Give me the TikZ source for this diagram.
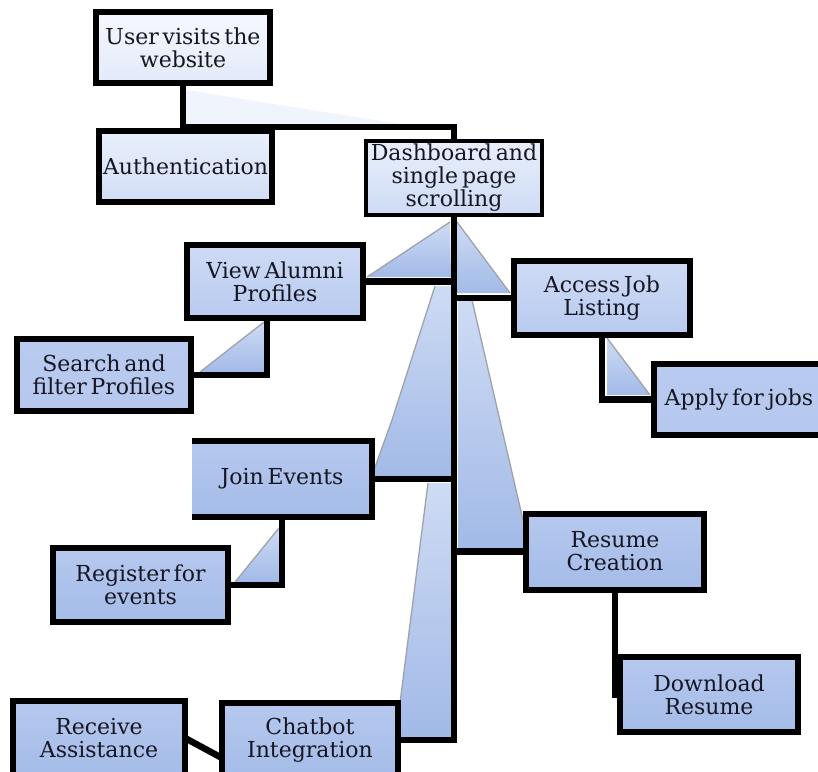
\documentclass[tikz,border=0pt]{standalone}
\usepackage{fontspec}
\setmainfont{DejaVu Serif}[WordSpace=0.55]
\definecolor{ink}{RGB}{22,22,34}
\definecolor{rimgray}{RGB}{160,162,170}
\definecolor{haze}{RGB}{240,244,252}
\definecolor{wedgeTop}{RGB}{206,219,244}
\definecolor{wedgeBot}{RGB}{162,186,231}
\definecolor{paleTop}{RGB}{246,248,254}
\definecolor{paleBot}{RGB}{226,233,249}
\definecolor{lightTop}{RGB}{233,239,251}
\definecolor{lightBot}{RGB}{210,222,246}
\definecolor{midTop}{RGB}{206,219,245}
\definecolor{midBot}{RGB}{184,202,239}
\definecolor{deepTop}{RGB}{182,200,238}
\definecolor{deepBot}{RGB}{164,188,232}
\tikzset{
  box/.style={draw=black, line width=6pt, minimum width=176pt, minimum height=74pt,
    inner sep=0pt, outer sep=0pt, align=center, text=ink,
    font=\fontsize{22}{23}\selectfont},
  tone/.style 2 args={top color=#1, bottom color=#2},
  link/.style={draw=black, line width=6.5pt},
  frame/.style={draw=black, line width=6pt},
  wedge/.style={top color=wedgeTop, bottom color=wedgeBot},
  rim/.style={draw=rimgray, line width=1.3pt}
}
\begin{document}
\begin{tikzpicture}[x=1pt,y=-1pt]
      \clip (0,0) rectangle (818,771);

      \fill[haze] (186,90) -- (186,124) -- (400,124) -- cycle;
      \shade[wedge] (450,222) -- (451,277) -- (367,277) -- cycle;
        \draw[rim] (450,222) -- (367,277);
      \shade[wedge] (457,222) -- (510,293) -- (457,293) -- cycle;
        \draw[rim] (457,222) -- (510,293);
      \shade[wedge] (435,286) -- (451,286) -- (451,476) -- (374,476) -- (374,470) -- (392,420) -- cycle;
        \draw[rim] (435,286) -- (392,420) -- (374,470);
      \shade[wedge] (428,483) -- (451,483) -- (451,737) -- (400,737) -- (400,703) -- cycle;
        \draw[rim] (428,483) -- (400,703);
      \shade[wedge] (458,300) -- (472,300) -- (523,520) -- (523,549) -- (458,549) -- cycle;
        \draw[rim] (472,300) -- (523,520);
      \shade[wedge] (200,372) -- (264,322) -- (264,372) -- cycle;
        \draw[rim] (200,372) -- (264,322);
      \shade[wedge] (235,582) -- (279,528) -- (279,582) -- cycle;
        \draw[rim] (235,582) -- (279,528);
      \shade[wedge] (607,338) -- (650,395) -- (607,395) -- cycle;
        \draw[rim] (607,338) -- (650,395);

      \node[box, tone={paleTop}{paleBot}, minimum width=174pt, minimum height=71pt] (user) at (183,47.5) {User visits the\\website};
      \node[box, tone={lightTop}{lightBot}, minimum width=173pt, minimum height=71pt] (auth) at (185.5,166.5) {Authentication};
      \node[box, tone={lightTop}{midTop}, line width=4pt] (dash) at (454,178) {Dashboard and\\single page\\scrolling};

      \node[box, tone={midTop}{midBot}, minimum height=73pt] (alumni) at (275,281.5) {View Alumni\\Profiles};
      \node[box, tone={midTop}{midBot}] (access) at (602,298) {Access Job\\Listing};
      \node[box, tone={midBot}{deepTop}, minimum width=174pt, minimum height=72pt] (search) at (104,375) {Search and\\filter Profiles};
      \node[box, tone={midBot}{deepTop}, minimum width=170pt, minimum height=71pt] (apply) at (739,399.5) {Apply for jobs};

      \node[box, tone={deepTop}{deepBot}, draw=none, minimum width=180pt, minimum height=76pt] (join) at (282,479) {Join Events};
      \node[box, tone={deepTop}{deepBot}, minimum width=175pt] (reg) at (140.5,585) {Register for\\events};
      \node[box, tone={deepTop}{deepBot}, minimum width=178pt, minimum height=76pt] (resume) at (615,551.5) {Resume\\Creation};
      \node[box, tone={deepTop}{deepBot}, minimum width=178pt, minimum height=75pt] (down) at (709,694.5) {Download\\Resume};
      \node[box, tone={deepTop}{deepBot}] (chat) at (310,740) {Chatbot\\Integration};
      \node[box, tone={deepTop}{deepBot}, minimum width=172pt] (recv) at (99,738) {Receive\\Assistance};

      \draw[frame] (join.north west) -- (join.north east) -- (join.south east) -- (join.south west);

      \draw[link] (user.south) -- ++(0,44) -| (dash.north);
      \draw[link] (dash.south) -- (dash.south |- chat.east) -- (chat.east);
      \draw[link] (alumni.east) -- (alumni.east -| dash.south);
      \draw[link] (access.west) -- (access.west -| dash.south);
      \draw[link] (join.east) -- (join.east -| dash.south);
      \draw[link] (resume.west) -- (resume.west -| dash.south);

      \draw[link] ([xshift=-8pt]alumni.south) |- (search.east);
      \draw[link] (access.south) |- (apply.west);
      \draw[link] (join.south) |- (reg.east);
      \draw[link] (resume.south) |- (down.west);
      \draw[link] (recv.east) -- ([yshift=-18pt]chat.west);

\end{tikzpicture}
\end{document}
